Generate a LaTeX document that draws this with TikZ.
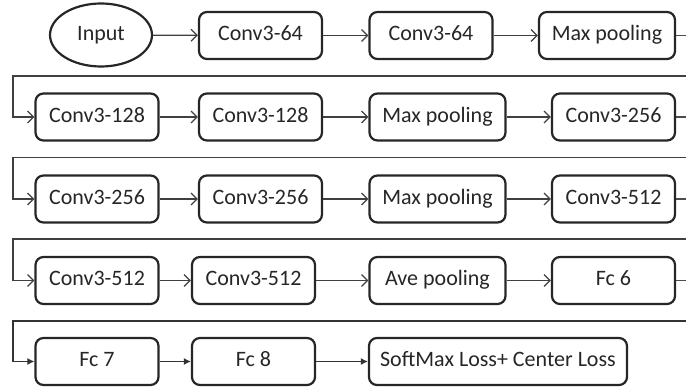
\documentclass[tikz,border=0pt]{standalone}
\usepackage{fontspec}
\setmainfont{Carlito}
\usetikzlibrary{arrows.meta,shapes.geometric}
\begin{document}
\begin{tikzpicture}[x=0.5pt,y=-0.5pt,
  box/.style={draw=black!85, line width=1.1pt, rounded corners=4pt, minimum height=23.5pt, inner sep=0pt, text height=7.6pt, text depth=2.4pt, font=\fontsize{11}{13}\selectfont, text=black!85},
  w122/.style={minimum width=61.5pt},
  w137/.style={minimum width=68pt},
  conn/.style={draw=black!75, line width=0.6pt, -{Straight Barb[length=3pt,width=6pt]}},
  connf/.style={draw=black!80, line width=0.6pt, -{Latex[length=3.5pt,width=3.5pt]}},
  wire/.style={draw=black!70, line width=0.6pt}]
\useasboundingbox (0,0) rectangle (686,390);
% row 1
\node[ellipse, draw=black!85, line width=1.1pt, minimum width=51pt, minimum height=31.5pt, inner sep=0pt, text height=7.6pt, text depth=2.4pt, font=\fontsize{11}{13}\selectfont, text=black!85] (in) at (101,35) {Input};
\node[box,w122] (a1) at (260.5,35.5) {Conv3-64};
\node[box,w122] (a2) at (431,35.5) {Conv3-64};
\node[box,w137] (a3) at (607,35.5) {Max pooling};
% row 2
\node[box,w122] (b1) at (97,117) {Conv3-128};
\node[box,w122] (b2) at (260.5,117) {Conv3-128};
\node[box,w137] (b3) at (437.5,117) {Max pooling};
\node[box,w122] (b4) at (613.5,117) {Conv3-256};
% row 3
\node[box,w122] (c1) at (97,199) {Conv3-256};
\node[box,w122] (c2) at (260.5,199) {Conv3-256};
\node[box,w137] (c3) at (437.5,199) {Max pooling};
\node[box,w122] (c4) at (613.5,199) {Conv3-512};
% row 4
\node[box,w122] (d1) at (97,280.5) {Conv3-512};
\node[box,w122] (d2) at (253.5,280.5) {Conv3-512};
\node[box,w137] (d3) at (437.5,280.5) {Ave pooling};
\node[box,w122] (d4) at (613.5,280.5) {Fc 6};
% row 5
\node[box,w122] (e1) at (97,361.5) {Fc 7};
\node[box,w122] (e2) at (253.5,361.5) {Fc 8};
\node[box,minimum width=129pt] (e3) at (498,361.5) {SoftMax Loss+ Center Loss};
% edge coordinates
\coordinate (r1) at (686,35.5);
\coordinate (r2) at (686,117);
\coordinate (r3) at (686,199);
\coordinate (r4) at (686,280.5);
\coordinate (w1) at (686,76);
\coordinate (w2) at (686,157.5);
\coordinate (w3) at (686,239);
\coordinate (w4) at (686,321);
\coordinate (k1) at (13,76);
\coordinate (k2) at (13,157.5);
\coordinate (k3) at (13,239);
\coordinate (k4) at (13,321);
% row connectors
\draw[conn] (in) -- (a1);
\draw[conn] (a1) -- (a2);
\draw[conn] (a2) -- (a3);
\draw[wire] (a3) -- (r1);
\draw[conn] (b1) -- (b2);
\draw[conn] (b2) -- (b3);
\draw[conn] (b3) -- (b4);
\draw[wire] (b4) -- (r2);
\draw[conn] (c1) -- (c2);
\draw[conn] (c2) -- (c3);
\draw[conn] (c3) -- (c4);
\draw[wire] (c4) -- (r3);
\draw[conn] (d1) -- (d2);
\draw[conn] (d2) -- (d3);
\draw[conn] (d3) -- (d4);
\draw[wire] (d4) -- (r4);
\draw[connf] (e1) -- (e2);
\draw[connf] (e2) -- (e3);
% wraps
\draw[conn] (w1) -- (k1) |- (b1.west);
\draw[conn] (w2) -- (k2) |- (c1.west);
\draw[conn] (w3) -- (k3) |- (d1.west);
\draw[connf] (w4) -- (k4) |- (e1.west);
\end{tikzpicture}
\end{document}
